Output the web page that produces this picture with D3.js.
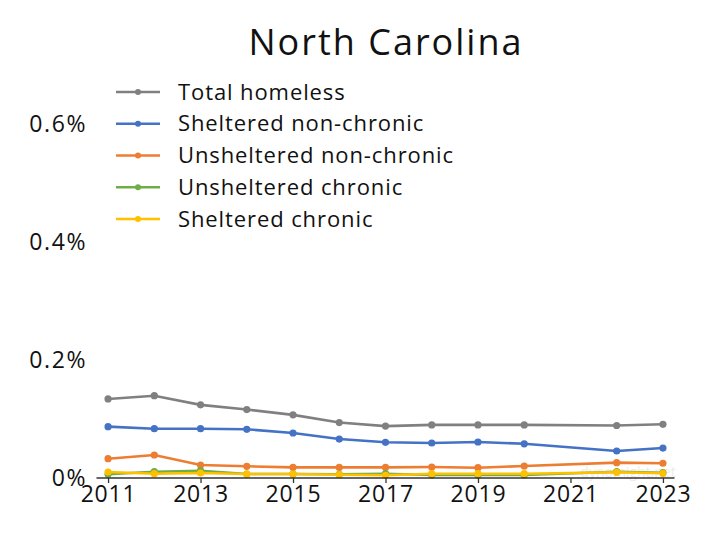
<!DOCTYPE html>
<html><head><meta charset="utf-8">
<script src="https://cdn.jsdelivr.net/npm/d3@7"></script>
<style>body{margin:0;background:#fff}svg{display:block}text{font-family:"Open Sans",sans-serif;fill:#111}</style>
</head><body><svg id="c" width="720" height="540"></svg>
<script>
const title = "North Carolina";
const years = [2011,2012,2013,2014,2015,2016,2017,2018,2019,2020,2022,2023];
const seriesNames = ["Total homeless","Sheltered non-chronic","Unsheltered non-chronic","Unsheltered chronic","Sheltered chronic"];
const seriesColors = ["#808080","#4472C4","#ED7D31","#70AD47","#FFC000"];
const totalHomeless = [0.134,0.1395,0.124,0.116,0.107,0.094,0.088,0.090,0.090,0.090,0.089,0.091];
const shelteredNonChronic = [0.087,0.0836,0.0836,0.0825,0.0763,0.066,0.0605,0.0593,0.061,0.058,0.0458,0.0508];
const unshelteredNonChronic = [0.0327,0.039,0.022,0.0198,0.018,0.018,0.018,0.0186,0.0175,0.0203,0.026,0.025];
const unshelteredChronic = [0.0063,0.0107,0.0124,0.0068,0.0068,0.0063,0.0073,0.0051,0.0051,0.0051,0.0107,0.009];
const shelteredChronic = [0.0102,0.0073,0.0085,0.0068,0.0068,0.0056,0.0046,0.0073,0.0073,0.0073,0.0097,0.008];
const yTicks = [0,0.2,0.4,0.6];
const xTicks = [2011,2013,2015,2017,2019,2021,2023];

const allSeries = [totalHomeless,shelteredNonChronic,unshelteredNonChronic,unshelteredChronic,shelteredChronic];
const svg = d3.select("#c");
const x = d3.scaleLinear().domain([2010.75,2023.25]).range([96.5,674.5]);
const y = d3.scaleLinear().domain([0,0.6]).range([478,124]);

svg.append("text").attr("x",386).attr("y",55).attr("text-anchor","middle")
  .style("font-size","36px").style("letter-spacing","2px").text(title);

// y axis labels
const ya = svg.append("g").attr("transform","translate(87,0)")
  .call(d3.axisLeft(y).tickValues(yTicks).tickSize(0).tickPadding(0).tickFormat(d=>d3.format(".1~f")(d)+"%"));
ya.select(".domain").remove();
ya.selectAll("text").style("font-size","23px").style("letter-spacing","1.6px")
  .style("font-family","'Open Sans',sans-serif").attr("fill","#111");

// watermark
svg.append("text").attr("x",628).attr("y",477).attr("text-anchor","middle")
  .style("font-size","14px").style("fill","#ececec").text("dynomight.net");

const line = d3.line().x((d,i)=>x(years[i])).y(d=>y(d));
[0,1,2,3,4].forEach(k=>{
  const g = svg.append("g");
  g.append("path").datum(allSeries[k]).attr("d",line).attr("fill","none")
    .attr("stroke",seriesColors[k]).attr("stroke-width",2.6);
  g.selectAll("circle").data(allSeries[k]).join("circle")
    .attr("cx",(d,i)=>x(years[i])).attr("cy",d=>y(d)).attr("r",3.6).attr("fill",seriesColors[k]);
});

// x axis
const xa = svg.append("g").attr("transform","translate(0,478)")
  .call(d3.axisBottom(x).tickValues(xTicks).tickSize(5).tickPadding(3).tickFormat(d3.format("d")));
xa.select(".domain").attr("d","M96.5,0H674.5").attr("stroke","#333").attr("stroke-width",1.5);
xa.selectAll(".tick line").attr("stroke","#333").attr("stroke-width",1.3);
xa.selectAll("text").style("font-size","23px").style("letter-spacing","0.8px")
  .style("font-family","'Open Sans',sans-serif").attr("fill","#111");

// legend
const lg = svg.append("g");
seriesNames.forEach((n,k)=>{
  const yy = 92 + k*31.75;
  lg.append("line").attr("x1",116).attr("x2",160).attr("y1",yy).attr("y2",yy)
    .attr("stroke",seriesColors[k]).attr("stroke-width",2.6);
  lg.append("circle").attr("cx",138).attr("cy",yy).attr("r",3).attr("fill",seriesColors[k]);
  lg.append("text").attr("x",178).attr("y",yy).attr("dy","0.35em")
    .style("font-size","22px").style("letter-spacing","0.9px").text(n);
});
</script></body></html>
